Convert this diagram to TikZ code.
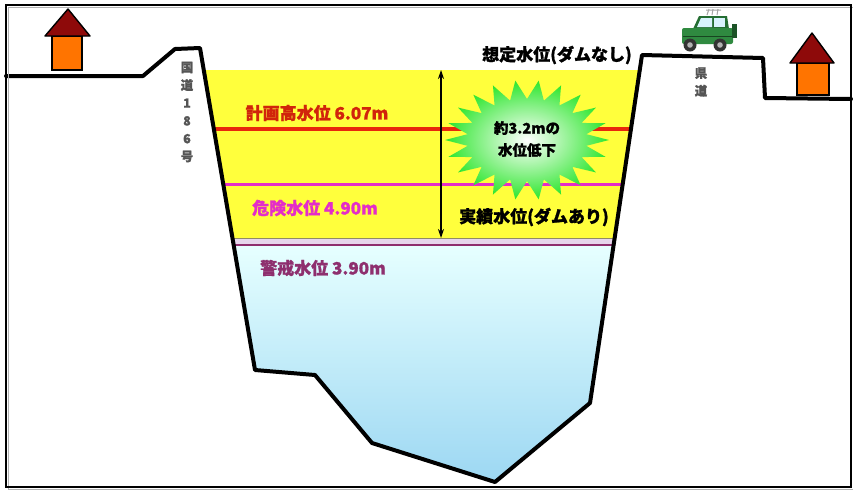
\documentclass[tikz,border=0pt]{standalone}
\usepackage{fontspec}
\setmainfont{Noto Sans CJK JP}[BoldFeatures={FakeBold=1.2}]
\usetikzlibrary{arrows.meta}

\definecolor{floodY}{HTML}{FFFF3C}
\definecolor{bandL}{HTML}{E6D6EC}
\definecolor{warnP}{HTML}{8E2F6E}
\definecolor{planR}{HTML}{E8280C}
\definecolor{dangM}{HTML}{E42DC8}
\definecolor{waterTop}{HTML}{E6FFFF}
\definecolor{waterBot}{HTML}{9AD6F2}
\definecolor{roofR}{HTML}{8E0A0A}
\definecolor{wallO}{HTML}{FF7400}
\definecolor{carG}{HTML}{2F8A40}
\definecolor{burstG}{HTML}{2EE62E}
\definecolor{roadT}{HTML}{555555}

\tikzset{
  ground/.style={line width=4pt, line join=round, line cap=round},
  lvltext/.style={font=\bfseries\fontsize{17}{19}\selectfont, inner sep=0pt},
  roadlabel/.style={font=\bfseries\fontsize{12.5}{17.8}\selectfont, text=roadT, align=center, inner sep=0pt},
  roof/.style={fill=roofR, draw=black, line width=1.4pt, line join=round},
  wall/.style={fill=wallO, draw=black, line width=1.4pt},
}

\begin{document}
\begin{tikzpicture}[x=1pt,y=-1pt]
\useasboundingbox (0,0) rectangle (853,491);
\fill[white] (0,0) rectangle (853,491);

% valley cross-section (used for clipping the water layers)
\begin{scope}
  \clip (200,48) -- (255,370) -- (315,375) -- (372,443) -- (495,482)
        -- (590,403) -- (642,55) -- cycle;
  % assumed flood depth without the dam
  \fill[floodY] (150,70) rectangle (700,238.5);
  \fill[bandL] (150,238.5) rectangle (700,245);
  \draw[gray!70!olive, line width=1pt] (150,238.5) -- (700,238.5);
  % normal water body
  \shade[top color=waterTop, bottom color=waterBot] (150,246) rectangle (700,490);
  % level lines
  \draw[planR, line width=3.2pt] (150,129) -- (700,129);
  \draw[dangM, line width=3pt] (150,184) -- (700,184);
  \draw[warnP, line width=2.4pt] (150,245) -- (700,245);
\end{scope}

% burst showing the lowering of the level
\shade[inner color=white, outer color=burstG]
  plot[samples=45, domain=0:44, variable=\k]
  ({527+ifthenelse(mod(\k,2)==0,82,60)*cos(\k*360/44)},
   {140+ifthenelse(mod(\k,2)==0,60,41)*sin(\k*360/44)}) -- cycle;
\node[font=\bfseries\fontsize{14.5}{22}\selectfont, align=center, inner sep=0pt]
  (drop) at (527,139) {約3.2mの\\水位低下};

% depth arrow between the two levels
\coordinate (lvlTop) at (441,70);
\coordinate (lvlBot) at (441,238);
\draw[line width=1.2pt, {Stealth[length=9pt,width=6pt]}-{Stealth[length=9pt,width=6pt]}]
  (lvlTop) -- (lvlBot);

% level labels
\node[lvltext, text=planR!90!black] (plan) at (317,113) {計画高水位 6.07m};
\node[lvltext, text=dangM] (danger) at (315,208) {危険水位 4.90m};
\node[lvltext, text=warnP] (warn) at (323,268) {警戒水位 3.90m};
\node[lvltext] (nodam) at (557,55) {想定水位(ダムなし)};
\node[lvltext] (withdam) at (534,217) {実績水位(ダムあり)};

% ground profile
\draw[ground] (6,76) -- (143,76) -- (175,49) -- (200,48) -- (255,370)
  -- (315,375) -- (372,443) -- (495,482) -- (590,403) -- (642,55)
  -- (763,58) -- (765,98) -- (851,99);

% road names
\node[roadlabel] (r186) at (187,112) {国\\道\\1\\8\\6\\号};
\node[roadlabel] (pref) at (701,82) {県\\道};

% houses
\fill[wall] (52,36) rectangle (82,70);
\fill[roof] (45,36) -- (68,9) -- (90,36) -- cycle;
\fill[wall] (797,63) rectangle (829,95);
\fill[roof] (790,63) -- (812,33) -- (834,63) -- cycle;

% car on the prefectural road
\draw[gray!70, line width=1pt] (707,15) -- (709,9) (712,15) -- (713,9) (717,15) -- (718,9)
  (706,10) -- (721,10);
\fill[carG!80!black] (693,29) -- (699,16) -- (727,16) -- (729,29) -- cycle;
\fill[carG, rounded corners=2pt] (682,28) rectangle (733,44);
\fill[carG!60!black] (732,24) rectangle (737,38);
\fill[cyan!15] (701,18) -- (712,18) -- (712,27) -- (697,27) -- cycle;
\fill[cyan!15] (714,18) rectangle (725,27);
\draw[carG!50!black, line width=0.6pt] (683,36) -- (732,36);
\foreach \wx in {690,720}{
  \fill[black!80] (\wx,45) circle (6.5);
  \fill[gray!60] (\wx,45) circle (2.8);
}

% frame
\draw[gray!60, line width=1pt] (8,7) rectangle (853,489);
\draw[black, line width=1.4pt] (6,5) rectangle (851,487);
\end{tikzpicture}
\end{document}
